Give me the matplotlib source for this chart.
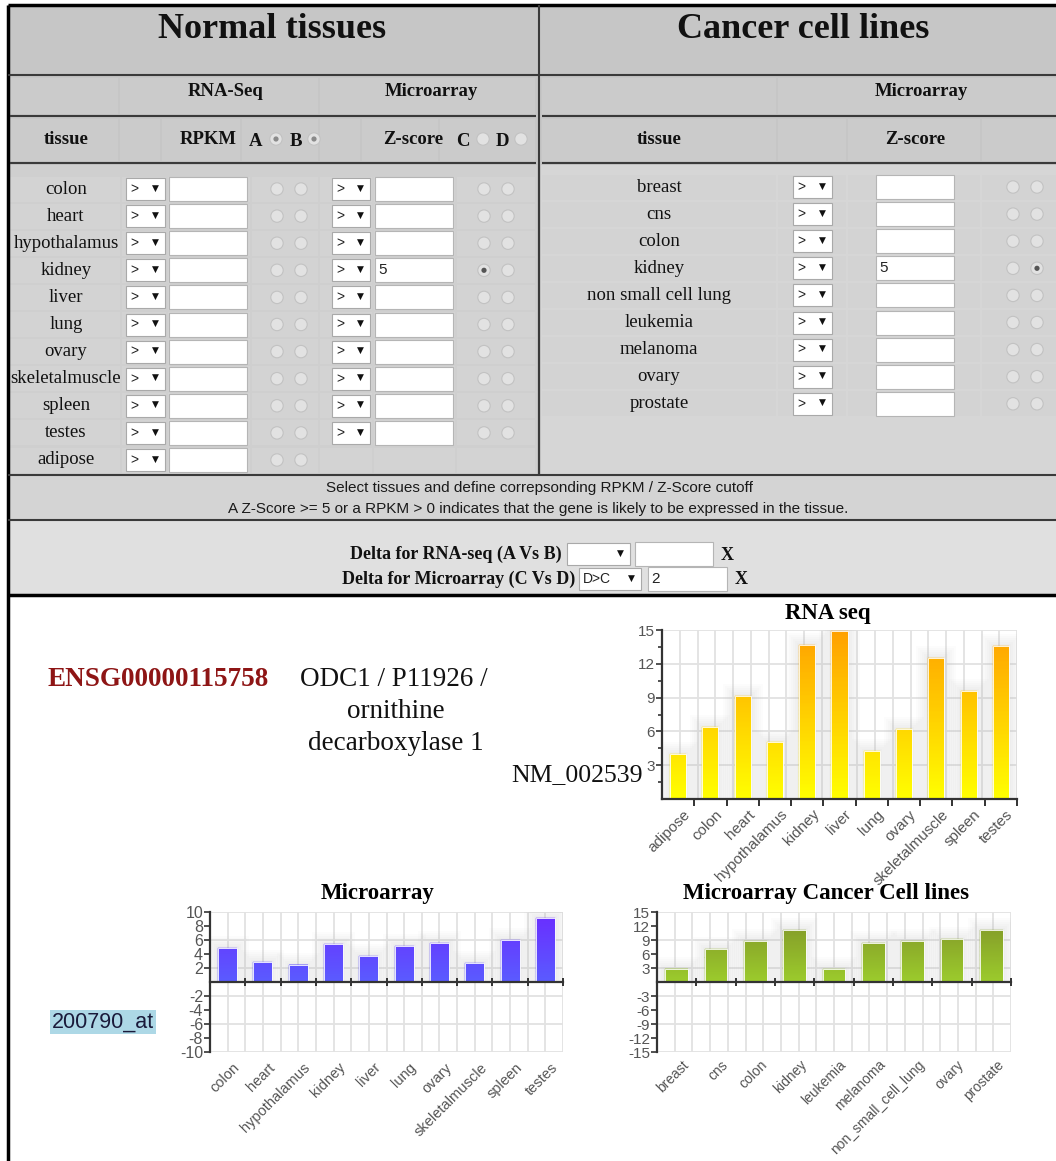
import numpy as np
import matplotlib
matplotlib.use("Agg")
import matplotlib.pyplot as plt
from matplotlib.patches import Rectangle, Circle
from matplotlib.colors import LinearSegmentedColormap
from matplotlib.transforms import ScaledTranslation

# ============================== DATA ==============================
rna_tissues = ["adipose", "colon", "heart", "hypothalamus", "kidney", "liver",
               "lung", "ovary", "skeletalmuscle", "spleen", "testes"]
rna_rpkm = [4.0, 6.4, 9.1, 5.1, 13.7, 14.9, 4.3, 6.2, 12.5, 9.6, 13.6]
rna_yticks = [3, 6, 9, 12, 15]

ma_tissues = ["colon", "heart", "hypothalamus", "kidney", "liver", "lung",
              "ovary", "skeletalmuscle", "spleen", "testes"]
ma_zscore = [4.8, 2.8, 2.5, 5.4, 3.7, 5.2, 5.6, 2.7, 6.0, 9.1]
ma_yticks = [-10, -8, -6, -4, -2, 2, 4, 6, 8, 10]

cancer_lines = ["breast", "cns", "colon", "kidney", "leukemia", "melanoma",
                "non_small_cell_lung", "ovary", "prostate"]
cancer_zscore = [2.8, 7.0, 8.7, 11.2, 2.7, 8.3, 8.7, 9.3, 11.1]
cancer_yticks = [-15, -12, -9, -6, -3, 3, 6, 9, 12, 15]

form_normal_rows = ["colon", "heart", "hypothalamus", "kidney", "liver", "lung",
                    "ovary", "skeletalmuscle", "spleen", "testes", "adipose"]
form_cancer_rows = ["breast", "cns", "colon", "kidney", "non small cell lung",
                    "leukemia", "melanoma", "ovary", "prostate"]

# ============================== CONFIG ==============================
W, H = 1056, 1161
SERIF = "Liberation Serif"
SANS = "Liberation Sans"
LINE = "#3a3a3a"

fig = plt.figure(figsize=(W / 100, H / 100), dpi=100)
fig.patch.set_facecolor("white")

# background canvas in pixel coordinates
bg = fig.add_axes([0, 0, 1, 1])
bg.set_xlim(0, W)
bg.set_ylim(H, 0)
bg.axis("off")


def rect(x0, y0, x1, y1, fc, ec="none", lw=0, z=1):
    bg.add_patch(Rectangle((x0, y0), x1 - x0, y1 - y0, facecolor=fc,
                           edgecolor=ec, linewidth=lw, zorder=z))


def hline(x0, x1, y, color=LINE, lw=1.5, z=5):
    bg.plot([x0, x1], [y, y], color=color, lw=lw, solid_capstyle="butt", zorder=z)


def vline(x, y0, y1, color=LINE, lw=1.5, z=5):
    bg.plot([x, x], [y0, y1], color=color, lw=lw, solid_capstyle="butt", zorder=z)


def txt(x, y, s, size=13, weight="normal", family=SERIF, ha="center", color="#111111", **kw):
    bg.text(x, y, s, fontsize=size, fontweight=weight, family=family, ha=ha,
            va="center", color=color, zorder=6, **kw)


def select_box(x0, x1, y, label=">"):
    rect(x0, y - 11, x1, y + 11, "white", "#a9a9a9", 0.8, 3)
    if label:
        txt(x0 + 4, y, label, size=10, family=SANS, ha="left", color="#222222")
    txt(x1 - 10, y - 1, "\u25bc", size=6.5, family="DejaVu Sans", color="#111111")


def input_box(x0, x1, y, val=""):
    rect(x0, y - 12, x1, y + 12, "white", "#b5b5b5", 0.8, 3)
    if val:
        txt(x0 + 3, y, val, size=11, family=SANS, ha="left", color="#222222")


def radio(x, y, checked=False, dot="#555555"):
    bg.add_patch(Circle((x, y), 6.2, facecolor="#e2e2e2", edgecolor="#c2c2c2",
                        linewidth=0.8, zorder=4))
    if checked:
        bg.add_patch(Circle((x, y), 2.6, facecolor=dot, edgecolor="none", zorder=5))


# ============================== FORM ==============================
rect(8, 5, W, 595, "#c6c6c6")
# header cells
for (a, b) in [(10, 118), (120, 318), (320, 535)]:
    rect(a, 78, b, 114, "#cbcbcb", z=2)
for (a, b) in [(10, 118), (120, 160), (162, 240), (242, 318), (320, 360), (362, 438), (440, 535)]:
    rect(a, 119, b, 161, "#cbcbcb", z=2)
for (a, b) in [(542, 776), (778, W)]:
    rect(a, 78, b, 114, "#cbcbcb", z=2)
for (a, b) in [(542, 776), (778, 846), (848, 980), (982, W)]:
    rect(a, 119, b, 161, "#cbcbcb", z=2)

# body backgrounds
rect(10, 165, 537, 474, "#cfcfcf", z=1)
rect(541, 165, W, 474, "#d6d6d6", z=1)
rect(8, 476, W, 519, "#d4d4d4", z=1)
rect(8, 521, W, 594, "#e0e0e0", z=1)

txt(272, 30, "Normal tissues", size=26, weight="bold")
txt(803, 30, "Cancer cell lines", size=26, weight="bold")

txt(226, 92, "RNA-Seq", size=13.5, weight="bold")
txt(431, 92, "Microarray", size=13.5, weight="bold")
txt(921, 92, "Microarray", size=13.5, weight="bold")

txt(66, 140, "tissue", size=13.5, weight="bold")
txt(208, 140, "RPKM", size=13.5, weight="bold")
txt(256, 141, "A", size=13.5, weight="bold")
radio(276, 139, True, dot="#8a8a8a")
txt(296, 141, "B", size=13.5, weight="bold")
radio(314, 139, True, dot="#8a8a8a")
txt(413, 140, "Z-score", size=13.5, weight="bold")
txt(463, 141, "C", size=13.5, weight="bold")
radio(483, 139)
txt(502, 141, "D", size=13.5, weight="bold")
radio(521, 139)
txt(659, 140, "tissue", size=13.5, weight="bold")
txt(915, 140, "Z-score", size=13.5, weight="bold")

# normal tissue rows
row_y0, row_dy = 189, 27.1
left_cols = [(10, 120), (122, 166), (168, 250), (252, 318), (320, 372), (374, 455), (457, 535)]
for i, name in enumerate(form_normal_rows):
    y = row_y0 + i * row_dy
    for (a, b) in left_cols:
        rect(a, y - 12.5, b, y + 12.5, "#d3d3d3", z=2)
    txt(66, y, name, size=13.5)
    select_box(126, 165, y)
    input_box(169, 247, y)
    radio(277, y)
    radio(301, y)
    if name != "adipose":
        select_box(332, 370, y)
        input_box(375, 453, y, "5" if name == "kidney" else "")
        radio(484, y, checked=(name == "kidney"))
        radio(508, y)

# cancer rows
crow_y0, crow_dy = 187, 27.1
right_cols = [(542, 776), (778, 846), (848, 980), (982, W)]
for i, name in enumerate(form_cancer_rows):
    y = crow_y0 + i * crow_dy
    for (a, b) in right_cols:
        rect(a, y - 12.5, b, y + 12.5, "#d3d3d3", z=2)
    txt(659, y, name, size=13.5)
    select_box(793, 832, y)
    input_box(876, 954, y, "5" if name == "kidney" else "")
    radio(1013, y)
    radio(1037, y, checked=(name == "kidney"))

# lines of the form
hline(8, W, 5, color="black", lw=2.5)
vline(8, 5, H, color="black", lw=2.5)
hline(8, W, 75)
hline(10, 536, 116)
hline(542, W, 116)
hline(10, 536, 163)
hline(542, W, 163)
vline(539, 5, 475)
hline(8, W, 475)
hline(8, W, 520)
hline(8, W, 595, color="black", lw=2.5)

txt(540, 488, "Select tissues and define correpsonding RPKM / Z-Score cutoff",
    size=11, family=SANS, color="#1a1a1a")
txt(538, 509, "A Z-Score >= 5 or a RPKM > 0 indicates that the gene is likely to be expressed in the tissue.",
    size=11, family=SANS, color="#1a1a1a")

txt(562, 554, "Delta for RNA-seq (A Vs B)", size=13, weight="bold", ha="right")
select_box(567, 630, 554, label="")
input_box(635, 713, 554)
txt(727, 555, "X", size=13, weight="bold")
txt(575, 579, "Delta for Microarray (C Vs D)", size=13, weight="bold", ha="right")
select_box(579, 641, 579, label="D>C")
input_box(648, 727, 579, "2")
txt(741, 580, "X", size=13, weight="bold")

# ============================== GENE INFO ==============================
txt(48, 679, "ENSG00000115758", size=19.5, weight="bold", ha="left", color="#8e1515")
txt(300, 680, "ODC1 / P11926 /", size=19.5, ha="left")
txt(396, 711, "ornithine", size=19.5)
txt(396, 743, "decarboxylase 1", size=19.5)
txt(511, 775, "NM_002539", size=18.5, ha="left")
bg.text(52, 1022, "200790_at", fontsize=15.5, family=SANS, ha="left", va="center",
        color="#1a1a3a", zorder=6,
        bbox=dict(boxstyle="square,pad=0.08", facecolor="#add8e6", edgecolor="none"))

txt(828, 614, "RNA seq", size=16.5, weight="bold", color="black")
txt(378, 893, "Microarray", size=16.5, weight="bold", color="black")
txt(826, 893, "Microarray Cancer Cell lines", size=16.5, weight="bold", color="black")


# ============================== CHARTS ==============================
def px_axes(x0, y0, x1, y1):
    return fig.add_axes([x0 / W, 1 - y1 / H, (x1 - x0) / W, (y1 - y0) / H])


def bar_chart(box, labels, values, ylim, yticks, grid_step, c_low, c_high,
              width, xsize, ysize, cross_ticks, minor_y=None, label_pad=6):
    x0, y0, x1, y1 = box
    ax = px_axes(x0, y0, x1, y1)
    n = len(labels)
    xs = np.arange(n)
    ymin, ymax = ylim
    sx = n / (x1 - x0)              # data units per pixel (x)
    sy = (ymax - ymin) / (y1 - y0)  # data units per pixel (y)

    # grid: 20 vertical divisions, horizontal every grid_step
    for k in range(21):
        ax.axvline(-0.5 + n * k / 20, color="#e2e2e2", lw=1.3, zorder=0)
    for gy in np.arange(ymax, ymin - 1e-9, -grid_step):
        ax.axhline(gy, color="#e2e2e2", lw=1.3, zorder=0)

    # soft glow around the bars
    for step in range(1, 7):
        for xc, v in zip(xs, values):
            pad = step * 2.0
            ax.add_patch(Rectangle((xc - width / 2 - pad * sx, 0),
                                   width + 2 * pad * sx, v + pad * sy,
                                   facecolor="#808080", edgecolor="none",
                                   alpha=0.018, zorder=1))

    # gradient bars built from thin horizontal slices (colour depends on height)
    cmap = LinearSegmentedColormap.from_list("grad", [c_low, c_high])
    nsl = 40
    for xc, v in zip(xs, values):
        edges = np.linspace(0, v, nsl + 1)
        mids = (edges[:-1] + edges[1:]) / 2
        cols = [cmap(m / ymax) for m in mids]
        ax.bar(np.full(nsl, xc), np.diff(edges), bottom=edges[:-1], width=width,
               color=cols, edgecolor=cols, linewidth=0.3, zorder=2)
    ax.bar(xs, values, width=width, color="none", edgecolor="#ffffff",
           linewidth=0.6, zorder=3)

    ax.set_xlim(-0.5, n - 0.5)
    ax.set_ylim(ymin, ymax)

    # zero axis with tick marks at category boundaries
    ax.axhline(0, color="#333333", lw=1.6, zorder=5, clip_on=False)
    bounds = np.arange(n) + 0.5
    ax.plot(bounds, np.zeros(n), linestyle="none",
            marker="|" if cross_ticks else 3, ms=6 if cross_ticks else 5,
            mew=1.4, color="#333333", zorder=6, clip_on=False)

    for s in ["top", "right", "bottom"]:
        ax.spines[s].set_visible(False)
    ax.spines["left"].set_color("#333333")
    ax.spines["left"].set_linewidth(1.6)
    ax.spines["left"].set_zorder(6)

    ax.set_xticks(xs)
    ax.set_xticklabels(labels, rotation=45, ha="right", rotation_mode="anchor",
                       fontsize=xsize, family=SANS, color="#555555")
    ax.tick_params(axis="x", length=0, pad=label_pad)
    off = ScaledTranslation(5 / 100, 0, fig.dpi_scale_trans)
    for lab in ax.get_xticklabels():
        lab.set_transform(lab.get_transform() + off)

    ax.set_yticks(yticks)
    ax.set_yticklabels([str(t) for t in yticks], fontsize=ysize, family=SANS,
                       color="#555555")
    ax.tick_params(axis="y", length=4, width=1.2, color="#333333", pad=1)
    if minor_y is not None:
        ax.set_yticks(minor_y, minor=True)
        ax.tick_params(axis="y", which="minor", length=3, width=1.2, color="#333333")
    ax.set_facecolor("white")
    return ax


bar_chart((662, 630, 1017, 799), rna_tissues, rna_rpkm, (0, 15), rna_yticks, 3,
          "#ffff00", "#ffa000", 0.5, 11, 11, cross_ticks=False,
          minor_y=[1.5, 4.5, 7.5, 10.5, 13.5])
bar_chart((210, 912, 563, 1052), ma_tissues, ma_zscore, (-10, 10), ma_yticks, 4,
          "#5a5cff", "#6a2cff", 0.54, 10.5, 11.5, cross_ticks=True)
bar_chart((657, 912, 1011, 1052), cancer_lines, cancer_zscore, (-15, 15), cancer_yticks, 6,
          "#9ccc2c", "#7f9228", 0.58, 10, 11, cross_ticks=True, label_pad=4)

fig.savefig("out.png", dpi=100)
